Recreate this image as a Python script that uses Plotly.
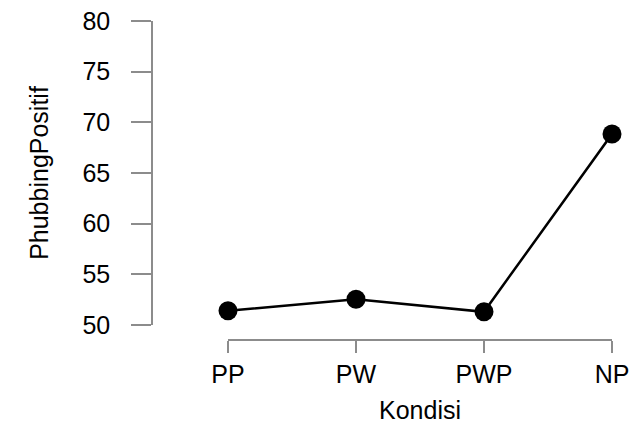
import plotly.graph_objects as go

kondisi = ["PP", "PW", "PWP", "NP"]
phubbing_positif = [51.4, 52.55, 51.3, 68.85]
y_ticks = [50, 55, 60, 65, 70, 75, 80]

W, H = 638, 428
FONT = "Liberation Sans, Arial, Helvetica, sans-serif"

fig = go.Figure(
    go.Scatter(
        x=kondisi,
        y=phubbing_positif,
        mode="lines+markers",
        line=dict(color="black", width=2.5),
        marker=dict(color="black", size=19),
        cliponaxis=False,
    )
)

fig.update_layout(
    width=W,
    height=H,
    margin=dict(l=0, r=0, t=0, b=0),
    paper_bgcolor="white",
    plot_bgcolor="white",
    showlegend=False,
    font=dict(family=FONT, color="black", size=25),
    xaxis=dict(
        type="category",
        categoryorder="array",
        categoryarray=kondisi,
        range=[0, 3],
        domain=[228 / W, 612 / W],
        anchor="free",
        position=1 - 340 / H,
        showline=True,
        linecolor="#8c8c8c",
        linewidth=1.5,
        ticks="outside",
        ticklen=12,
        tickwidth=1.5,
        tickcolor="#8c8c8c",
        ticklabelstandoff=0,
        showgrid=False,
        zeroline=False,
        automargin=False,
        tickfont=dict(size=25),
        title=dict(text="Kondisi", standoff=14, font=dict(size=25)),
    ),
    yaxis=dict(
        range=[50, 80],
        tickvals=y_ticks,
        domain=[1 - 325 / H, 1 - 21 / H],
        anchor="free",
        position=152 / W,
        showline=True,
        linecolor="#8c8c8c",
        linewidth=1.5,
        ticks="outside",
        ticklen=20,
        tickwidth=1.5,
        tickcolor="#8c8c8c",
        ticklabelstandoff=16,
        showgrid=False,
        zeroline=False,
        automargin=False,
        tickfont=dict(size=25),
        title=dict(text="PhubbingPositif", standoff=26, font=dict(size=25)),
    ),
)

fig.write_html(
    "out.html",
    config={"displayModeBar": False},
    post_script="document.body.style.margin='0';document.body.style.overflow='hidden';",
)
